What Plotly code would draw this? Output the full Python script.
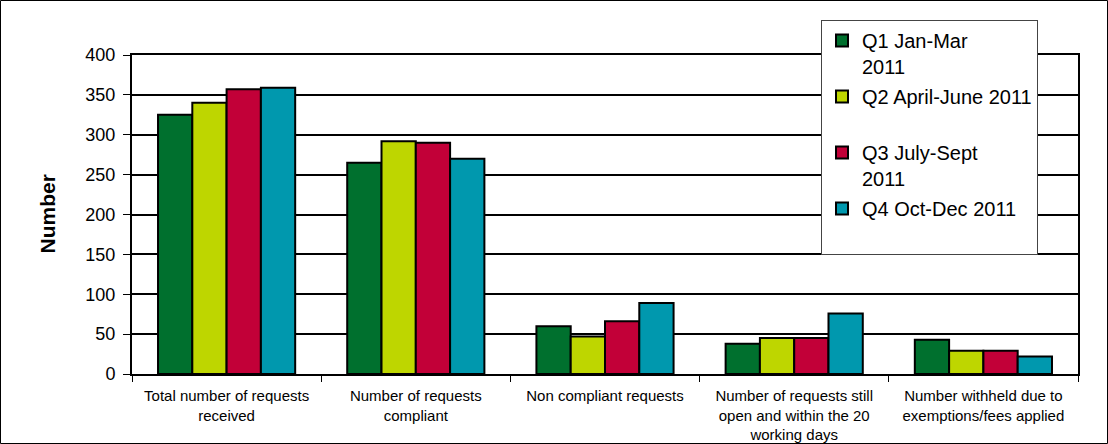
import plotly.graph_objects as go

categories = [
    "Total number of requests<br>received",
    "Number of requests<br>compliant",
    "Non compliant requests",
    "Number of requests still<br>open and within the 20<br>working days",
    "Number withheld due to<br>exemptions/fees applied",
]
series_names = [
    "Q1 Jan-Mar<br>2011",
    "Q2 April-June 2011<br> ",
    "Q3 July-Sept<br>2011",
    "Q4 Oct-Dec 2011<br> ",
]
q1 = [325, 265, 60, 38, 43]
q2 = [340, 292, 47, 45, 29]
q3 = [357, 290, 66, 45, 29]
q4 = [359, 270, 89, 76, 22]
series_values = [q1, q2, q3, q4]
colors = ["#00702E", "#BED600", "#C20038", "#0098AE"]
y_ticks = [0, 50, 100, 150, 200, 250, 300, 350, 400]

W, H = 1108, 444
ml, mr, mt, mb = 132, 30, 55, 70
pw, ph = W - ml - mr, H - mt - mb

fig = go.Figure()
for i, (name, vals, col) in enumerate(zip(series_names, series_values, colors)):
    fig.add_trace(go.Bar(
        x=categories, y=vals, name=name,
        marker=dict(color=col, line=dict(color="black", width=2)),
        legendgroup=f"g{i}",
    ))

font = "Liberation Sans, Arial, sans-serif"
fig.update_layout(
    width=W, height=H,
    margin=dict(l=ml, r=mr, t=mt, b=mb, pad=0, autoexpand=False),
    paper_bgcolor="white", plot_bgcolor="white",
    barmode="group", bargap=0.275, bargroupgap=0,
    font=dict(family=font, color="black"),
    showlegend=True,
    legend=dict(
        x=(821 - ml) / pw, y=(H - mb - 20) / ph, xanchor="left", yanchor="top",
        bgcolor="white", bordercolor="#444444", borderwidth=1,
        font=dict(size=20, family=font, color="black"),
        valign="top", traceorder="grouped", tracegroupgap=1,
        itemwidth=30, maxheight=1,
    ),
    xaxis=dict(
        showline=True, linecolor="black", linewidth=2, mirror=True,
        ticks="outside", tickson="boundaries", ticklen=6, tickcolor="black", tickwidth=1,
        tickfont=dict(size=15, family=font), showgrid=False, ticklabelstandoff=7,
        automargin=False,
    ),
    yaxis=dict(
        range=[0, 400], tickvals=y_ticks, showline=True, linecolor="black", linewidth=2,
        mirror=True, ticks="outside", ticklen=7, tickcolor="black", tickwidth=1,
        showgrid=True, gridcolor="black", gridwidth=2, zeroline=False,
        tickfont=dict(size=18, family=font), ticklabelstandoff=4, automargin=False,
    ),
    annotations=[dict(
        text="<b>Number</b>", textangle=-90, xref="paper", yref="paper",
        x=(47 - ml) / pw, y=0.5, xanchor="center", yanchor="middle",
        showarrow=False, font=dict(size=21, family=font),
    )],
    shapes=[dict(
        type="rect", xref="paper", yref="paper",
        x0=(0.5 - ml) / pw, x1=(W - 0.5 - ml) / pw,
        y0=-(mb - 0.5) / ph, y1=1 + (mt - 0.5) / ph,
        line=dict(color="black", width=1), layer="below",
    )],
)

fig.write_html("out.html", config={"displayModeBar": False},
               post_script="document.body.style.margin='0px';")
